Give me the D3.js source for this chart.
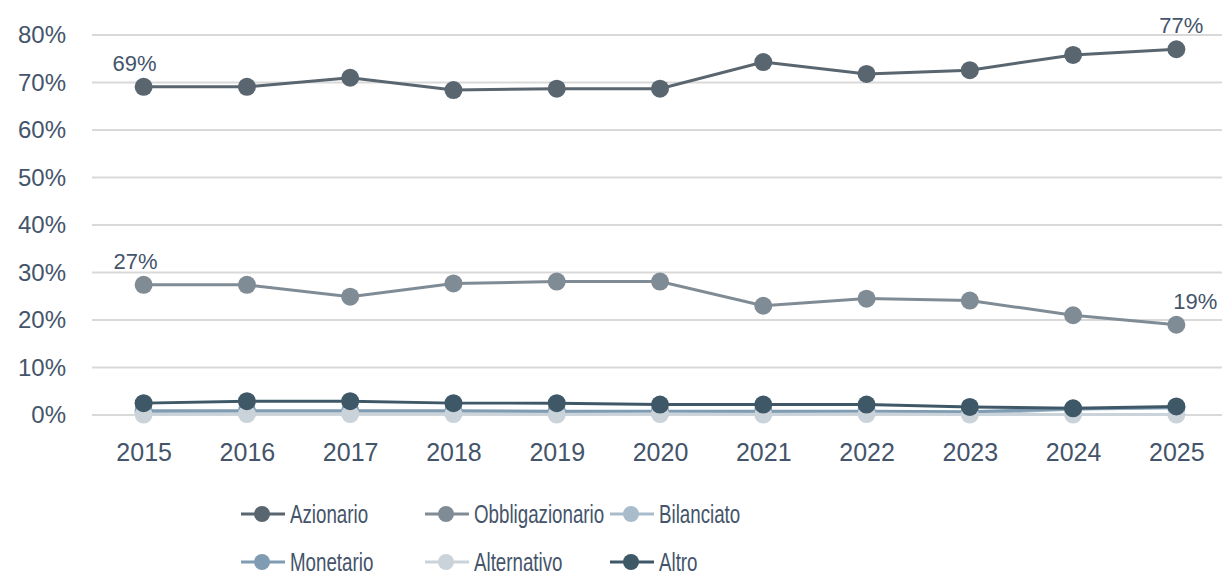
<!DOCTYPE html>
<html>
<head>
<meta charset="utf-8">
<script src="https://cdn.jsdelivr.net/npm/d3@7"></script>
<style>
  body { margin: 0; background: #fff; }
  svg text { fill: #44546a; }
</style>
</head>
<body>
<div id="my_dataviz"></div>
<script>
// data (share of total, in %)
var years = ["2015", "2016", "2017", "2018", "2019", "2020", "2021", "2022", "2023", "2024", "2025"]
var azionario       = [69.1, 69.1, 71.0, 68.4, 68.7, 68.7, 74.3, 71.8, 72.6, 75.8, 77.0]
var obbligazionario = [27.4, 27.4, 24.9, 27.7, 28.1, 28.1, 23.0, 24.5, 24.1, 21.0, 19.0]
var bilanciato      = [0.5, 0.5, 0.5, 0.5, 0.4, 0.4, 0.4, 0.5, 0.4, 1.2, 1.5]
var monetario       = [0.9, 0.9, 0.9, 0.9, 0.8, 0.8, 0.8, 0.8, 0.7, 1.3, 1.6]
var alternativo     = [0.1, 0.2, 0.2, 0.2, 0.1, 0.2, 0.1, 0.2, 0.1, 0.1, 0.1]
var altro           = [2.5, 2.9, 2.9, 2.5, 2.5, 2.2, 2.2, 2.2, 1.7, 1.4, 1.8]
var yTicks = [0, 10, 20, 30, 40, 50, 60, 70, 80]

var series = [
  { name: "Azionario",       values: azionario,       color: "#59656f" },
  { name: "Obbligazionario", values: obbligazionario, color: "#808c95" },
  { name: "Bilanciato",      values: bilanciato,      color: "#a9bccb" },
  { name: "Monetario",       values: monetario,       color: "#7f9cb3" },
  { name: "Alternativo",     values: alternativo,     color: "#cbd3da" },
  { name: "Altro",           values: altro,           color: "#3f5868" }
]

var width = 1222
    height = 577

var svg = d3.select("#my_dataviz")
  .append("svg")
    .attr("width", width)
    .attr("height", height)

var x = d3.scalePoint()
  .domain(years)
  .range([92, 1228])
  .padding(0.5)

var y = d3.scaleLinear()
  .domain([0, 80])
  .range([415, 35])

// gridlines
svg.selectAll("line.grid")
  .data(yTicks)
  .enter()
  .append("line")
    .attr("x1", 92)
    .attr("x2", width)
    .attr("y1", function(d) { return y(d) })
    .attr("y2", function(d) { return y(d) })
    .attr("stroke", "#d9d9d9")
    .attr("stroke-width", 2)

// y axis labels
var yAxis = svg.append("g")
  .attr("transform", "translate(66,0)")
  .call(d3.axisLeft(y).tickValues(yTicks).tickSize(0).tickPadding(0).tickFormat(function(d) { return d + "%" }))
yAxis.select(".domain").remove()
yAxis.selectAll("text")
  .attr("fill", "#44546a")
  .style("font-family", "'Liberation Sans', Arial, sans-serif")
  .style("font-size", "24px")

// x axis labels
var xAxis = svg.append("g")
  .attr("transform", "translate(0,440)")
  .call(d3.axisBottom(x).tickSize(0).tickPadding(0))
xAxis.select(".domain").remove()
xAxis.selectAll("text")
  .attr("fill", "#44546a")
  .attr("dy", "0.85em")
  .style("font-family", "'Liberation Sans', Arial, sans-serif")
  .style("font-size", "25px")

var line = d3.line()
  .x(function(d, i) { return x(years[i]) })
  .y(function(d) { return y(d) })

// one group per series: line first, then its markers
series.forEach(function(s) {
  var g = svg.append("g")
  g.append("path")
    .datum(s.values)
    .attr("d", line)
    .attr("fill", "none")
    .attr("stroke", s.color)
    .attr("stroke-width", 3)
  g.selectAll("circle")
    .data(s.values)
    .enter()
    .append("circle")
      .attr("cx", function(d, i) { return x(years[i]) })
      .attr("cy", function(d) { return y(d) })
      .attr("r", 9)
      .attr("fill", s.color)
})

// data labels on first and last point of the two main series
var labels = [
  { v: azionario[0],  i: 0,  dx: -9 },
  { v: azionario[10], i: 10, dx: 5 },
  { v: obbligazionario[0],  i: 0,  dx: -8 },
  { v: obbligazionario[10], i: 10, dx: 19 }
]
svg.selectAll("text.lbl")
  .data(labels)
  .enter()
  .append("text")
    .attr("class", "lbl")
    .attr("x", function(d) { return x(years[d.i]) + d.dx })
    .attr("y", function(d) { return y(d.v) - 16 })
    .attr("text-anchor", "middle")
    .style("font-family", "'Liberation Sans', Arial, sans-serif")
    .style("font-size", "22px")
    .text(function(d) { return Math.round(d.v) + "%" })

// legend, two rows of three
var legCols = [241, 425, 610]
var legRows = [514, 562]
var leg = svg.selectAll("g.leg")
  .data(series)
  .enter()
  .append("g")
    .attr("class", "leg")
    .attr("transform", function(d, i) { return "translate(" + legCols[i % 3] + "," + legRows[Math.floor(i / 3)] + ")" })
leg.append("line")
  .attr("x1", 0).attr("x2", 44)
  .attr("stroke", function(d) { return d.color })
  .attr("stroke-width", 3)
leg.append("circle")
  .attr("cx", 21)
  .attr("r", 8)
  .attr("fill", function(d) { return d.color })
// the legend font in the picture is a narrow face, so squeeze it horizontally
leg.append("text")
  .attr("transform", "translate(49,0) scale(0.75,1)")
  .attr("dy", "0.36em")
  .style("font-family", "'Liberation Sans', sans-serif")
  .style("font-size", "25px")
  .text(function(d) { return d.name })
</script>
</body>
</html>
